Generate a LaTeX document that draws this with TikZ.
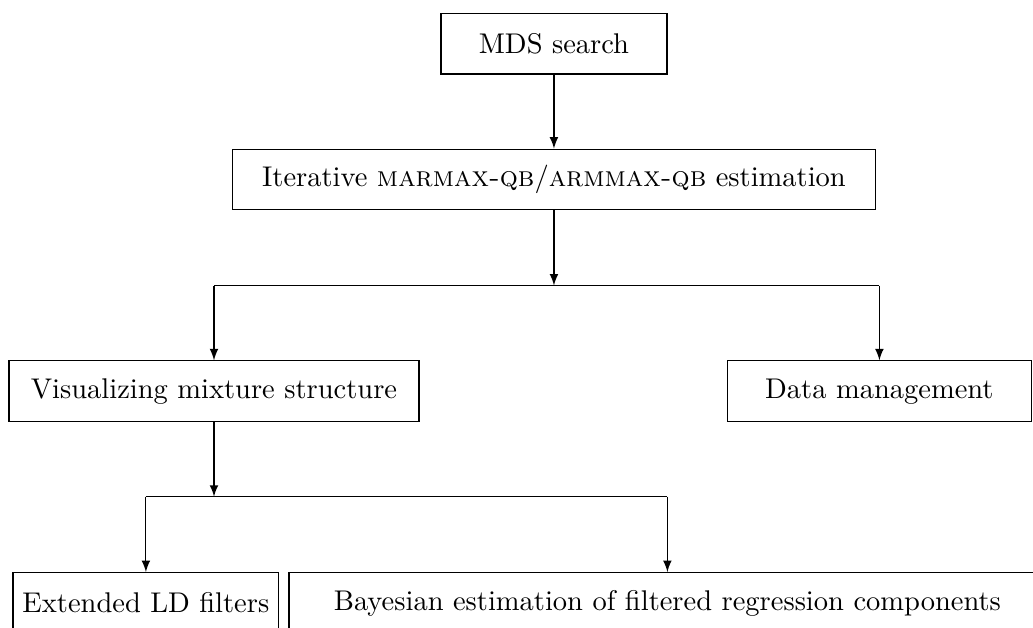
\documentclass[tikz,border=0pt]{standalone}
\usepackage{tikz}
\usetikzlibrary{arrows,calc}
\tikzset{
    block/.style = {draw, rectangle, 
        minimum height=21.3pt, align=center},
    split/.style = {coordinate},
    arrow/.style={draw, ->}
}

\begin{document}
\begin{tikzpicture}[auto, node distance=74.3pt,>=latex]
    \useasboundingbox (-194.4pt,15.3pt) rectangle (168.1pt,-205pt);
    \node [block, minimum width=79.3pt] (mds) {MDS search};
    \node [block, below of=mds, node distance=47.7pt, minimum width=225.6pt] (iter) {Iterative \textsc{marmax-qb}/\textsc{armmax-qb} estimation};
    \draw [arrow] (mds) -- (iter);
    % first split
    \coordinate [split, below of=iter, node distance=37.2pt] (s1);
    \draw [arrow] (iter) -- (s1);
    \node [block, below of=iter, xshift=-119.3pt, minimum width=143.9pt] (vis) {Visualizing mixture structure};
    \node [block, below of=iter, xshift=114.2pt, minimum width=106.7pt] (data) {Data management};
    \draw (s1 -| vis) -- (s1 -| data);
    \draw [arrow] (s1 -| vis) -- (vis);
    \draw [arrow] (s1 -| data) -- (data);
    % second split
    \coordinate [split, below of=vis, node distance=37pt] (s2);
    \draw [arrow] (vis) -- (s2);
    \node [block, below of=vis, xshift=-23.9pt, minimum width=93.3pt] (ld) {Extended LD filters};
    \node [block, below of=vis, xshift=159.1pt, minimum width=265.6pt] (bayes) {Bayesian estimation of filtered regression components};
    \draw (s2 -| ld) -- (s2 -| bayes);
    \draw [arrow] (s2 -| ld) -- (ld);
    \draw [arrow] (s2 -| bayes) -- (bayes);
\end{tikzpicture}
\end{document}
